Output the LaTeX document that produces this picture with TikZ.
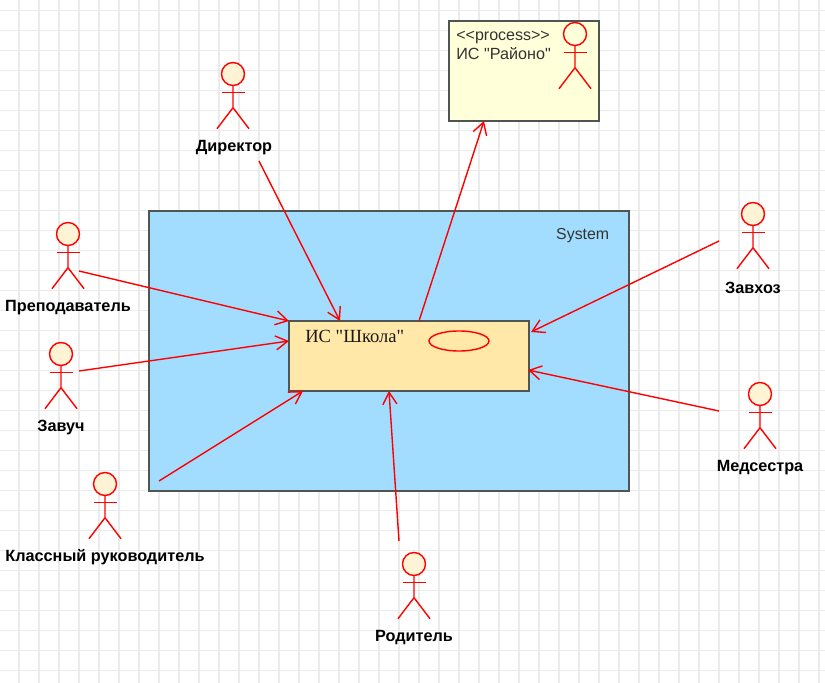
\documentclass[tikz,border=0pt]{standalone}
\usepackage{fontspec}
\newfontfamily\sansru{Liberation Sans}
\newfontfamily\serifru{Liberation Serif}
\usetikzlibrary{arrows.meta,shapes.geometric}

\definecolor{gridgray}{HTML}{EBEBEB}
\definecolor{sysblue}{HTML}{A2DDFF}
\definecolor{boxline}{HTML}{4F5552}
\definecolor{schoolfill}{HTML}{FFE8A8}
\definecolor{procfill}{HTML}{FFFFD9}
\definecolor{headfill}{HTML}{FFF3D6}

\tikzset{
    box/.style={draw=boxline, line width=1.45pt, inner sep=0pt, outer sep=0pt},
    stickline/.style={red, line width=1pt},
    actorlabel/.style={font=\sansru\bfseries\fontsize{11.55}{14}\selectfont, inner sep=0pt},
    uses/.style={red, line width=1pt, -{Straight Barb[length=8.5pt, width=10pt, line width=1pt]}},
}

% Strichmaennchen: Name, x, y (Kopfmitte), Fuellung
\newcommand{\stickman}[4]{
    \node[circle, draw=red, fill=#4, line width=1pt, minimum size=0.575cm, inner sep=0pt] (#1Head) at (#2,#3) {};
    \draw[stickline] (#1Head.south) -- ++(0,21.5) coordinate (#1Hip) -- ++(-16,21);
    \draw[stickline] (#1Hip) -- ++(16,21);
    \draw[stickline] (#2-11.5,#3+18.5) -- ++(23,0);
}

\begin{document}
\begin{tikzpicture}[x=0.025cm, y=-0.025cm]
    \useasboundingbox (0,0) rectangle (825,683);

    % Raster
    \foreach \gx in {19,39,...,819} {
        \draw[gridgray, line width=1.4pt] (\gx,0) -- (\gx,683);
    }
    \foreach \gy in {10.5,30.5,...,680} {
        \draw[gridgray, line width=1.4pt] (0,\gy) -- (825,\gy);
    }

    % Kaesten
    \node[box, fill=sysblue, minimum width=12cm, minimum height=7cm] (system) at (389,351) {};
    \node[box, fill=schoolfill, minimum width=6cm, minimum height=1.75cm] (schule) at (409,356) {};
    \node[box, fill=procfill, minimum width=3.75cm, minimum height=2.5cm] (rayono) at (524,71) {};

    % Beschriftungen der Kaesten
    \node[anchor=east, inner sep=0pt, font=\sansru\fontsize{11.3}{14}\selectfont, text=black!80] (systemText) at (609.5,236) {System};
    \node[anchor=west, inner sep=0pt, font=\serifru\fontsize{13.2}{16}\selectfont, text=black!90] (schuleText) at (305,336) {ИС "Школа"};
    \node[anchor=west, inner sep=0pt, font=\sansru\fontsize{11.4}{14}\selectfont, text=black!80] (procText) at (456,37) {<{}<process>{}>};
    \node[anchor=west, inner sep=0pt, font=\sansru\fontsize{11.5}{14}\selectfont, text=black!80] (rayonoText) at (456,54) {ИС "Районо"};
    \node[ellipse, draw=red, line width=1pt, minimum width=1.5cm, minimum height=0.5cm, inner sep=0pt] (schuleOval) at (459,341) {};

    % Akteure
    \stickman{direktor}{233}{74}{headfill}
    \stickman{lehrer}{68}{234}{headfill}
    \stickman{zavuch}{61}{354}{headfill}
    \stickman{klass}{105}{484}{headfill}
    \stickman{eltern}{414}{564}{headfill}
    \stickman{zavhoz}{753}{214}{headfill}
    \stickman{medsestra}{760}{394}{headfill}
    \stickman{rayonoMan}{575}{34}{procfill}

    \node[actorlabel] (direktorText) at (234,147.5) {Директор};
    \node[actorlabel] (lehrerText) at (68,307.5) {Преподаватель};
    \node[actorlabel] (zavuchText) at (61,427.5) {Завуч};
    \node[actorlabel] (klassText) at (105,557.5) {Классный руководитель};
    \node[actorlabel] (elternText) at (414,637.5) {Родитель};
    \node[actorlabel] (zavhozText) at (753,287.5) {Завхоз};
    \node[actorlabel] (medsestraText) at (760,467.5) {Медсестра};

    % Anfangs- und Endpunkte der Pfeile
    \coordinate (direktorOut) at (259,161);
    \coordinate (direktorIn) at (340,321);
    \coordinate (lehrerOut) at (79,271);
    \coordinate (lehrerIn) at (289,321);
    \coordinate (zavuchOut) at (79,371);
    \coordinate (zavuchIn) at (289,341);
    \coordinate (klassOut) at (159,481);
    \coordinate (klassIn) at (303,391);
    \coordinate (elternOut) at (399,541);
    \coordinate (elternIn) at (389,391);
    \coordinate (zavhozOut) at (719,241);
    \coordinate (zavhozIn) at (531,332);
    \coordinate (medsestraOut) at (719,411);
    \coordinate (medsestraIn) at (528,370);
    \coordinate (schuleOut) at (419,321);
    \coordinate (rayonoIn) at (484,121);

    % Pfeile
    \draw[uses] (direktorOut) -- (direktorIn);
    \draw[uses] (lehrerOut) -- (lehrerIn);
    \draw[uses] (zavuchOut) -- (zavuchIn);
    \draw[uses] (klassOut) -- (klassIn);
    \draw[uses] (elternOut) -- (elternIn);
    \draw[uses] (zavhozOut) -- (zavhozIn);
    \draw[uses] (medsestraOut) -- (medsestraIn);
    \draw[uses] (schuleOut) -- (rayonoIn);
\end{tikzpicture}
\end{document}
